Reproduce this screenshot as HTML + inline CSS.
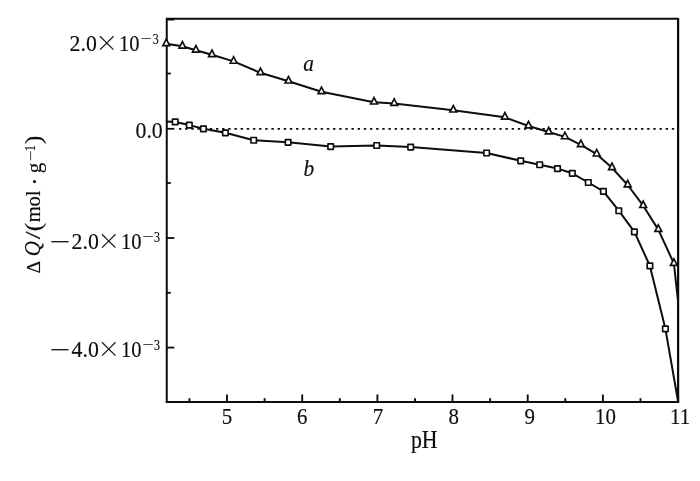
<!DOCTYPE html>
<html><head><meta charset="utf-8"><title>chart</title>
<style>
html,body{margin:0;padding:0;background:#fff;}
svg{display:block}
text{font-family:"Liberation Serif",serif;fill:#0d0d0d;stroke:#0d0d0d;stroke-width:0.15px;}
.x{font-family:"Noto Serif CJK SC","Liberation Serif",serif;}
</style></head><body>
<svg width="700" height="481" viewBox="0 0 700 481">
<rect width="700" height="481" fill="#fff"/>

<path d="M166.75,402.0 L166.75,18.8 L678.1,18.8" fill="none" stroke="#0d0d0d" stroke-width="2.0" stroke-linejoin="miter"/>
<path d="M166.75,402.0 L678.1,402.0" fill="none" stroke="#0d0d0d" stroke-width="2.0" stroke-linecap="square"/>
<path d="M678.1,18.8 L678.1,402.0" fill="none" stroke="#0d0d0d" stroke-width="2.25" stroke-linecap="round"/>
<line x1="179.0" y1="128.8" x2="678.1" y2="128.8" stroke="#0d0d0d" stroke-width="1.65" stroke-dasharray="2.4 3.76"/>
<line x1="167.0" y1="19.6" x2="174.3" y2="19.6" stroke="#0d0d0d" stroke-width="1.8"/>
<line x1="167.0" y1="73.5" x2="170.8" y2="73.5" stroke="#0d0d0d" stroke-width="1.8"/>
<line x1="167.0" y1="128.8" x2="174.3" y2="128.8" stroke="#0d0d0d" stroke-width="1.8"/>
<line x1="167.0" y1="183" x2="170.8" y2="183" stroke="#0d0d0d" stroke-width="1.8"/>
<line x1="167.0" y1="238" x2="174.3" y2="238" stroke="#0d0d0d" stroke-width="1.8"/>
<line x1="167.0" y1="292.8" x2="170.8" y2="292.8" stroke="#0d0d0d" stroke-width="1.8"/>
<line x1="167.0" y1="347.6" x2="174.3" y2="347.6" stroke="#0d0d0d" stroke-width="1.8"/>
<line x1="189.4" y1="402.0" x2="189.4" y2="398.2" stroke="#0d0d0d" stroke-width="1.9"/>
<line x1="227.0" y1="402.0" x2="227.0" y2="394.5" stroke="#0d0d0d" stroke-width="1.9"/>
<line x1="264.6" y1="402.0" x2="264.6" y2="398.2" stroke="#0d0d0d" stroke-width="1.9"/>
<line x1="302.2" y1="402.0" x2="302.2" y2="394.5" stroke="#0d0d0d" stroke-width="1.9"/>
<line x1="339.8" y1="402.0" x2="339.8" y2="398.2" stroke="#0d0d0d" stroke-width="1.9"/>
<line x1="377.4" y1="402.0" x2="377.4" y2="394.5" stroke="#0d0d0d" stroke-width="1.9"/>
<line x1="415.0" y1="402.0" x2="415.0" y2="398.2" stroke="#0d0d0d" stroke-width="1.9"/>
<line x1="452.5" y1="402.0" x2="452.5" y2="394.5" stroke="#0d0d0d" stroke-width="1.9"/>
<line x1="490.1" y1="402.0" x2="490.1" y2="398.2" stroke="#0d0d0d" stroke-width="1.9"/>
<line x1="527.7" y1="402.0" x2="527.7" y2="394.5" stroke="#0d0d0d" stroke-width="1.9"/>
<line x1="565.3" y1="402.0" x2="565.3" y2="398.2" stroke="#0d0d0d" stroke-width="1.9"/>
<line x1="602.9" y1="402.0" x2="602.9" y2="394.5" stroke="#0d0d0d" stroke-width="1.9"/>
<line x1="640.5" y1="402.0" x2="640.5" y2="398.2" stroke="#0d0d0d" stroke-width="1.9"/>
<line x1="678.1" y1="402.0" x2="678.1" y2="394.5" stroke="#0d0d0d" stroke-width="1.9"/>
<polyline points="166.3,43.8 182.4,46.3 195.9,50.3 212,54.8 233.6,61.4 260.5,72.8 288.5,81.2 321.5,91.8 374,102.2 394.2,103.6 453.3,110.2 504.9,117.35 528.5,126.0 548.7,132.0 564.9,136.9 580.9,144.8 596.7,154.15 612.0,167.8 627.7,185.0 643.2,205.7 658.3,229.6 673.9,263.5 678,301" fill="none" stroke="#0d0d0d" stroke-width="2.0" stroke-linejoin="round"/>
<polyline points="167,121.6 175.2,121.9 189.3,125.1 203.4,128.8 225.4,132.8 253.7,140.2 288.1,142.3 330.7,146.6 376.7,145.5 410.7,147.1 486.6,153 520.7,160.8 539.7,164.7 557.5,168.6 572.3,173.3 588.3,182.5 603.4,191.3 618.8,210.7 634.4,231.9 649.9,265.9 665.4,328.8 678,401" fill="none" stroke="#0d0d0d" stroke-width="2.0" stroke-linejoin="round"/>
<path d="M162.90,45.60 L169.70,45.60 L166.30,39.10 Z" fill="#fff" stroke="#0d0d0d" stroke-width="1.65"/>
<path d="M179.00,48.10 L185.80,48.10 L182.40,41.60 Z" fill="#fff" stroke="#0d0d0d" stroke-width="1.65"/>
<path d="M192.50,52.10 L199.30,52.10 L195.90,45.60 Z" fill="#fff" stroke="#0d0d0d" stroke-width="1.65"/>
<path d="M208.60,56.60 L215.40,56.60 L212.00,50.10 Z" fill="#fff" stroke="#0d0d0d" stroke-width="1.65"/>
<path d="M230.20,63.20 L237.00,63.20 L233.60,56.70 Z" fill="#fff" stroke="#0d0d0d" stroke-width="1.65"/>
<path d="M257.10,74.60 L263.90,74.60 L260.50,68.10 Z" fill="#fff" stroke="#0d0d0d" stroke-width="1.65"/>
<path d="M285.10,83.00 L291.90,83.00 L288.50,76.50 Z" fill="#fff" stroke="#0d0d0d" stroke-width="1.65"/>
<path d="M318.10,93.60 L324.90,93.60 L321.50,87.10 Z" fill="#fff" stroke="#0d0d0d" stroke-width="1.65"/>
<path d="M370.60,104.00 L377.40,104.00 L374.00,97.50 Z" fill="#fff" stroke="#0d0d0d" stroke-width="1.65"/>
<path d="M390.80,105.40 L397.60,105.40 L394.20,98.90 Z" fill="#fff" stroke="#0d0d0d" stroke-width="1.65"/>
<path d="M449.90,112.00 L456.70,112.00 L453.30,105.50 Z" fill="#fff" stroke="#0d0d0d" stroke-width="1.65"/>
<path d="M501.50,119.15 L508.30,119.15 L504.90,112.65 Z" fill="#fff" stroke="#0d0d0d" stroke-width="1.65"/>
<path d="M525.10,127.80 L531.90,127.80 L528.50,121.30 Z" fill="#fff" stroke="#0d0d0d" stroke-width="1.65"/>
<path d="M545.30,133.80 L552.10,133.80 L548.70,127.30 Z" fill="#fff" stroke="#0d0d0d" stroke-width="1.65"/>
<path d="M561.50,138.70 L568.30,138.70 L564.90,132.20 Z" fill="#fff" stroke="#0d0d0d" stroke-width="1.65"/>
<path d="M577.50,146.60 L584.30,146.60 L580.90,140.10 Z" fill="#fff" stroke="#0d0d0d" stroke-width="1.65"/>
<path d="M593.30,155.95 L600.10,155.95 L596.70,149.45 Z" fill="#fff" stroke="#0d0d0d" stroke-width="1.65"/>
<path d="M608.60,169.60 L615.40,169.60 L612.00,163.10 Z" fill="#fff" stroke="#0d0d0d" stroke-width="1.65"/>
<path d="M624.30,186.80 L631.10,186.80 L627.70,180.30 Z" fill="#fff" stroke="#0d0d0d" stroke-width="1.65"/>
<path d="M639.80,207.50 L646.60,207.50 L643.20,201.00 Z" fill="#fff" stroke="#0d0d0d" stroke-width="1.65"/>
<path d="M654.90,231.40 L661.70,231.40 L658.30,224.90 Z" fill="#fff" stroke="#0d0d0d" stroke-width="1.65"/>
<path d="M670.50,265.30 L677.30,265.30 L673.90,258.80 Z" fill="#fff" stroke="#0d0d0d" stroke-width="1.65"/>
<rect x="172.45" y="119.15" width="5.5" height="5.5" fill="#fff" stroke="#0d0d0d" stroke-width="1.65" stroke-linejoin="round"/>
<rect x="186.55" y="122.35" width="5.5" height="5.5" fill="#fff" stroke="#0d0d0d" stroke-width="1.65" stroke-linejoin="round"/>
<rect x="200.65" y="126.05" width="5.5" height="5.5" fill="#fff" stroke="#0d0d0d" stroke-width="1.65" stroke-linejoin="round"/>
<rect x="222.65" y="130.05" width="5.5" height="5.5" fill="#fff" stroke="#0d0d0d" stroke-width="1.65" stroke-linejoin="round"/>
<rect x="250.95" y="137.45" width="5.5" height="5.5" fill="#fff" stroke="#0d0d0d" stroke-width="1.65" stroke-linejoin="round"/>
<rect x="285.35" y="139.55" width="5.5" height="5.5" fill="#fff" stroke="#0d0d0d" stroke-width="1.65" stroke-linejoin="round"/>
<rect x="327.95" y="143.85" width="5.5" height="5.5" fill="#fff" stroke="#0d0d0d" stroke-width="1.65" stroke-linejoin="round"/>
<rect x="373.95" y="142.75" width="5.5" height="5.5" fill="#fff" stroke="#0d0d0d" stroke-width="1.65" stroke-linejoin="round"/>
<rect x="407.95" y="144.35" width="5.5" height="5.5" fill="#fff" stroke="#0d0d0d" stroke-width="1.65" stroke-linejoin="round"/>
<rect x="483.85" y="150.25" width="5.5" height="5.5" fill="#fff" stroke="#0d0d0d" stroke-width="1.65" stroke-linejoin="round"/>
<rect x="517.95" y="158.05" width="5.5" height="5.5" fill="#fff" stroke="#0d0d0d" stroke-width="1.65" stroke-linejoin="round"/>
<rect x="536.95" y="161.95" width="5.5" height="5.5" fill="#fff" stroke="#0d0d0d" stroke-width="1.65" stroke-linejoin="round"/>
<rect x="554.75" y="165.85" width="5.5" height="5.5" fill="#fff" stroke="#0d0d0d" stroke-width="1.65" stroke-linejoin="round"/>
<rect x="569.55" y="170.55" width="5.5" height="5.5" fill="#fff" stroke="#0d0d0d" stroke-width="1.65" stroke-linejoin="round"/>
<rect x="585.55" y="179.75" width="5.5" height="5.5" fill="#fff" stroke="#0d0d0d" stroke-width="1.65" stroke-linejoin="round"/>
<rect x="600.65" y="188.55" width="5.5" height="5.5" fill="#fff" stroke="#0d0d0d" stroke-width="1.65" stroke-linejoin="round"/>
<rect x="616.05" y="207.95" width="5.5" height="5.5" fill="#fff" stroke="#0d0d0d" stroke-width="1.65" stroke-linejoin="round"/>
<rect x="631.65" y="229.15" width="5.5" height="5.5" fill="#fff" stroke="#0d0d0d" stroke-width="1.65" stroke-linejoin="round"/>
<rect x="647.15" y="263.15" width="5.5" height="5.5" fill="#fff" stroke="#0d0d0d" stroke-width="1.65" stroke-linejoin="round"/>
<rect x="662.65" y="326.05" width="5.5" height="5.5" fill="#fff" stroke="#0d0d0d" stroke-width="1.65" stroke-linejoin="round"/>
<text transform="matrix(1.0 0 0 1.09 69.6 51.1)" font-size="21.8" text-anchor="start">2.0</text>
<text transform="matrix(1.0 0 0 1.0 95.3 51.1)" font-size="23" text-anchor="start" class="x">×</text>
<text transform="matrix(0.94 0 0 1.09 119.1 51.1)" font-size="21.8" text-anchor="start">10</text>
<text transform="matrix(1.57 0 0 1.09 140.5 43.4)" font-size="12.6" text-anchor="start">−</text>
<text transform="matrix(0.95 0 0 1.17 152.7 43.9)" font-size="12.6" text-anchor="start">3</text>
<text transform="matrix(1.0 0 0 1.09 135.5 138.0)" font-size="21.8" text-anchor="start">0.0</text>
<text transform="matrix(1.66 0 0 1.0 49.8 249.1)" font-size="21.8" text-anchor="start">−</text>
<text transform="matrix(1.0 0 0 1.09 71.6 248.6)" font-size="21.8" text-anchor="start">2.0</text>
<text transform="matrix(1.0 0 0 1.0 97.3 248.6)" font-size="23" text-anchor="start" class="x">×</text>
<text transform="matrix(0.94 0 0 1.09 121.1 248.6)" font-size="21.8" text-anchor="start">10</text>
<text transform="matrix(1.57 0 0 1.09 142.5 240.9)" font-size="12.6" text-anchor="start">−</text>
<text transform="matrix(0.95 0 0 1.17 154.1 242.2)" font-size="12.6" text-anchor="start">3</text>
<text transform="matrix(1.66 0 0 1.0 49.8 357.1)" font-size="21.8" text-anchor="start">−</text>
<text transform="matrix(1.0 0 0 1.09 71.6 356.6)" font-size="21.8" text-anchor="start">4.0</text>
<text transform="matrix(1.0 0 0 1.0 97.3 356.6)" font-size="23" text-anchor="start" class="x">×</text>
<text transform="matrix(0.94 0 0 1.09 121.1 356.6)" font-size="21.8" text-anchor="start">10</text>
<text transform="matrix(1.57 0 0 1.09 142.5 348.9)" font-size="12.6" text-anchor="start">−</text>
<text transform="matrix(0.95 0 0 1.17 154.1 350.2)" font-size="12.6" text-anchor="start">3</text>
<text transform="matrix(0.96 0 0 1.09 227.0 424.4)" font-size="21.8" text-anchor="middle">5</text>
<text transform="matrix(0.96 0 0 1.09 302.2 424.4)" font-size="21.8" text-anchor="middle">6</text>
<text transform="matrix(0.96 0 0 1.09 377.9 424.4)" font-size="21.8" text-anchor="middle">7</text>
<text transform="matrix(0.96 0 0 1.09 453.8 424.4)" font-size="21.8" text-anchor="middle">8</text>
<text transform="matrix(0.96 0 0 1.09 529.7 424.4)" font-size="21.8" text-anchor="middle">9</text>
<text transform="matrix(0.96 0 0 1.09 605.5 424.4)" font-size="21.8" text-anchor="middle">10</text>
<text transform="matrix(0.96 0 0 1.09 680.1 424.4)" font-size="21.8" text-anchor="middle">11</text>
<text transform="matrix(1.0 0 0 1.12 424.2 448.1)" font-size="21.8" text-anchor="middle">pH</text>
<text transform="matrix(0.95 0 0 1.0 308.6 70.9)" font-size="22.5" text-anchor="middle" font-style="italic">a</text>
<text transform="matrix(0.95 0 0 1.0 308.9 175.6)" font-size="22.5" text-anchor="middle" font-style="italic">b</text>
<text transform="matrix(0 -1.0 1.0 0 40 273.4)" font-size="19.6">Δ</text>
<text transform="matrix(0 -1.0 1.05 0 40 256.2)" font-size="21.0" font-style="italic">Q</text>
<text transform="matrix(0 -1.35 1.0 0 40 239.3)" font-size="21.0">/</text>
<text transform="matrix(0 -1.2 1.06 0 41.0 231.3)" font-size="21.0">(</text>
<text transform="matrix(0 -0.975 1.0 0 40 222.3)" font-size="21.0">mol</text>
<text transform="matrix(0 -1.0 1.0 0 43.2 185.7)" font-size="25">·</text>
<text transform="matrix(0 -1.0 1.0 0 40.8 173.2)" font-size="21.0">g</text>
<text transform="matrix(0 -1.5 1.0 0 35 161.6)" font-size="12.6">−</text>
<text transform="matrix(0 -1.0 1.1 0 35 151.3)" font-size="12.6">1</text>
<text transform="matrix(0 -1.2 1.06 0 41.0 143.9)" font-size="21.0">)</text>
</svg></body></html>
